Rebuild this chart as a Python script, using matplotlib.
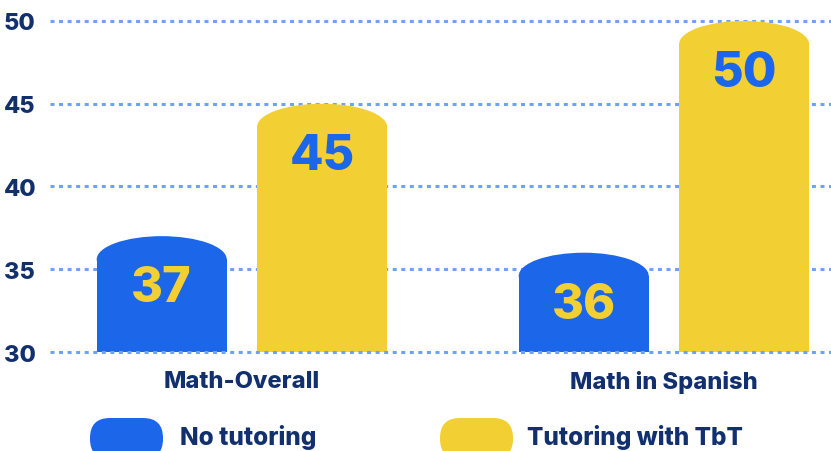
import matplotlib.pyplot as plt
from matplotlib.patches import Ellipse, FancyBboxPatch

# datos
categories = ["Math-Overall", "Math in Spanish"]
no_tutoring = [37, 36]
tutoring_tbt = [45, 50]
series_names = ["No tutoring", "Tutoring with TbT"]
y_ticks = [30, 35, 40, 45, 50]

BLUE = "#1B66E9"
YELLOW = "#F2CF33"
NAVY = "#13306E"
GRID = "#6EA1F7"
WEIGHT = 'heavy'

plt.rcParams['font.family'] = ['Inter', 'DejaVu Sans']

fig = plt.figure(figsize=(8.31, 4.52), dpi=100)
ax = fig.add_axes([0.060, 0.219, 0.940, 0.7507])

width = 0.308
offset = 0.19
dome = 1.4  # altura de la cúpula en unidades del eje
base = 30

for i, cat in enumerate(categories):
    for val, off, col, txt_col in [(no_tutoring[i], -offset, BLUE, YELLOW),
                                   (tutoring_tbt[i], offset, YELLOW, BLUE)]:
        x = i + off
        ax.bar(x, val - dome - base, bottom=base, width=width, color=col,
               zorder=2, linewidth=0)
        ax.add_patch(Ellipse((x, val - dome), width, 2 * dome, color=col,
                             zorder=2, linewidth=0))
        ax.text(x, val - 3.15, str(val), ha='center', va='center',
                fontsize=35, fontweight=WEIGHT, color=txt_col, zorder=4)

ax.set_xlim(-0.455, 1.396)
ax.set_ylim(30, 50.5)
ax.set_yticks(y_ticks)
ax.set_yticklabels([str(t) for t in y_ticks], fontsize=17, fontweight=WEIGHT,
                   color=NAVY, ha='left')
ax.tick_params(axis='y', length=0, pad=33)
ax.set_xticks(range(len(categories)))
ax.set_xticklabels(categories, fontsize=17, fontweight=WEIGHT, color=NAVY)
ax.tick_params(axis='x', length=0, pad=13)

for s in ax.spines.values():
    s.set_visible(False)

for t in y_ticks:
    ax.axhline(t, color=GRID, linewidth=2.2, linestyle=(0, (1.3, 1.5)),
               dash_capstyle='butt', zorder=1 if t > 30 else 3, clip_on=False)

# leyenda manual
legend_items = [(0.90, BLUE, series_names[0], 1.80), (4.40, YELLOW, series_names[1], 5.27)]
for x0, col, label, tx in legend_items:
    fig.patches.append(FancyBboxPatch((x0, -0.08), 0.73, 0.41,
                                      boxstyle="round,pad=0,rounding_size=0.2",
                                      transform=fig.dpi_scale_trans,
                                      facecolor=col, edgecolor='none'))
    fig.text(tx, 0.14, label, transform=fig.dpi_scale_trans, fontsize=17.5,
             fontweight=WEIGHT, color=NAVY, va='center', ha='left')

fig.savefig('out.png', dpi=100)
